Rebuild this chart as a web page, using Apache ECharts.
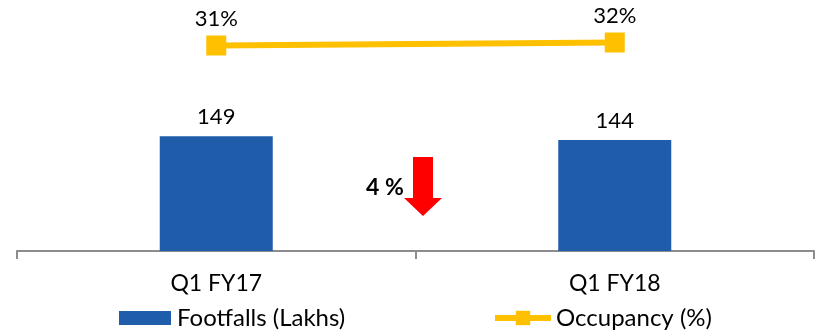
<!DOCTYPE html>
<html>
<head>
<meta charset="utf-8">
<script src="https://cdn.jsdelivr.net/npm/echarts@6/dist/echarts.min.js"></script>
<style>
html,body{margin:0;padding:0;background:#fff;}
#chart{width:826px;height:334px;}
</style>
</head>
<body>
<div id="chart"></div>
<script>
const categories = ['Q1 FY17', 'Q1 FY18'];
const footfalls = [149, 144];
const occupancy = [31, 32];
const barName = 'Footfalls (Lakhs)';
const lineName = 'Occupancy (%)';
const changeLabel = '4 %';

const FONT = 'Lato, "Open Sans", sans-serif';
const chart = echarts.init(document.getElementById('chart'), null, {renderer: 'canvas'});
chart.setOption({
  animation: false,
  backgroundColor: '#ffffff',
  textStyle: {fontFamily: FONT},
  grid: {left: 17, right: 12, top: 20, bottom: 83, containLabel: false},
  legend: [
    {
      data: [barName], left: 119, top: 306, icon: 'rect',
      itemWidth: 52, itemHeight: 14, itemGap: 0, padding: 0,
      textStyle: {fontFamily: FONT, fontSize: 24, color: '#000', padding: [0, 0, 0, 1]}
    },
    {
      data: [lineName], left: 492, top: 306,
      itemWidth: 56, itemHeight: 18, itemGap: 0, padding: 0,
      lineStyle: {width: 6},
      textStyle: {fontFamily: FONT, fontSize: 24, color: '#000', padding: [0, 0, 0, 0]}
    }
  ],
  xAxis: {
    type: 'category', data: categories, boundaryGap: true,
    axisLine: {lineStyle: {color: '#8c8c8c', width: 2}},
    axisTick: {show: true, length: 8, lineStyle: {color: '#8c8c8c', width: 2}},
    axisLabel: {fontFamily: FONT, fontSize: 23, color: '#000', margin: 21}
  },
  yAxis: [
    {type: 'value', min: 0, max: 300, show: false, splitLine: {show: false}},
    {type: 'value', min: -37.5, max: 39.5, show: false, splitLine: {show: false}}
  ],
  series: [
    {
      name: barName, type: 'bar', data: footfalls, yAxisIndex: 0,
      barWidth: 113, itemStyle: {color: '#1F5CA9'},
      label: {show: true, position: 'top', distance: 8, fontFamily: FONT, fontSize: 22, color: '#000'}
    },
    {
      name: lineName, type: 'line', data: occupancy, yAxisIndex: 1,
      symbol: 'rect', symbolSize: 20,
      lineStyle: {color: '#FFC000', width: 6},
      itemStyle: {color: '#FFC000'},
      label: {show: true, position: 'top', distance: 6, fontFamily: FONT, fontSize: 22, color: '#000',
        formatter: p => p.value + '%'}
    }
  ],
  graphic: [
    {
      type: 'polygon', z: 100,
      shape: {points: [[413,157],[433,157],[433,198],[442,198],[423,216],[404,198],[413,198]]},
      style: {fill: '#FF0000'}
    },
    {
      type: 'text', z: 100, left: 366, top: 176,
      style: {text: changeLabel, fontFamily: FONT, fontSize: 23, fontWeight: 'bold', fill: '#000'}
    }
  ]
});
</script>
</body>
</html>
